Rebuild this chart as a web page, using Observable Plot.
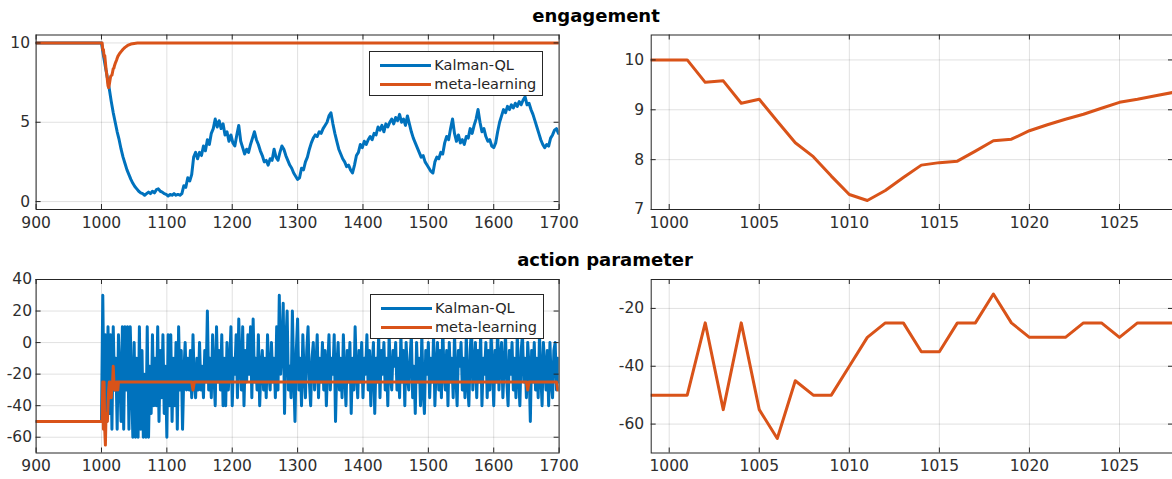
<!DOCTYPE html>
<html><head><meta charset="utf-8">
<script src="https://cdn.jsdelivr.net/npm/d3@7"></script>
<script src="https://cdn.jsdelivr.net/npm/@observablehq/plot@0.6"></script>
<style>
html,body{margin:0;padding:0;background:#fff;overflow:hidden;}
#fig{position:relative;width:1172px;height:479px;overflow:hidden;font-family:"DejaVu Sans",sans-serif;}
.panel{position:absolute;}
.title{position:absolute;font-weight:bold;font-size:18px;color:#000;transform:translate(-50%,-50%);white-space:nowrap;line-height:1;}
.legend{position:absolute;border:1px solid #262626;background:#fff;box-sizing:border-box;}
.legend .sw{position:absolute;height:3px;width:51px;left:10px;}
.legend .lb{position:absolute;left:64px;font-size:14.5px;color:#262626;line-height:1;transform:translateY(-50%);white-space:nowrap;}
</style>
</head><body>
<div id="fig"></div>
<script>
// ---------- data ----------
const seriesNames = ["Kalman-QL", "meta-learning"];
const titles = ["engagement", "action parameter"];

const xTicksFull = [900, 1000, 1100, 1200, 1300, 1400, 1500, 1600, 1700];
const xTicksZoom = [1000, 1005, 1010, 1015, 1020, 1025];
const yTicksEng = [0, 5, 10];
const yTicksEngZoom = [7, 8, 9, 10];
const yTicksAct = [-60, -40, -20, 0, 20, 40];
const yTicksActZoom = [-60, -40, -20];

// Kalman-QL engagement: value at t=900, then every 3 steps from t=1000
const kalmanEngStartT = [900];
const kalmanEngStartV = [10];
const kalmanEngagement = [
  10, 9.2, 8.5, 7.8, 7.1, 6.3, 5.6, 5.0, 4.4, 3.9,
  3.3, 2.8, 2.4, 2.0, 1.7, 1.4, 1.15, 0.95, 0.8, 0.65,
  0.55, 0.5, 0.4, 0.5, 0.6, 0.5, 0.65, 0.55, 0.75, 0.8,
  0.65, 0.6, 0.5, 0.45, 0.35, 0.45, 0.4, 0.5, 0.4, 0.45,
  0.4, 0.5, 1.0, 0.9, 1.5, 1.3, 1.7, 2.8, 3.1, 2.7,
  3.1, 2.9, 3.5, 3.2, 3.9, 3.6, 4.3, 4.6, 5.2, 4.7,
  5.1, 4.6, 4.9, 4.2, 4.4, 3.8, 4.2, 3.7, 3.5, 4.2,
  4.8, 3.8, 3.4, 3.0, 3.3, 3.1, 3.6, 4.0, 4.4, 3.9,
  3.6, 3.2, 2.9, 2.5, 2.6, 2.3, 2.7, 2.6, 3.3, 2.8,
  2.6, 3.1, 3.5, 3.3, 2.9, 2.6, 2.3, 2.1, 1.8, 1.6,
  1.4, 1.5, 2.1, 2.0, 2.5, 2.8, 3.3, 3.7, 4.0, 4.2,
  4.1, 4.4, 4.3, 4.6, 4.8, 5.0, 5.4, 5.6, 4.9, 4.3,
  3.8, 3.3, 3.0, 2.7, 2.5, 2.2, 2.3, 2.0, 1.8, 2.3,
  2.9, 3.1, 3.6, 3.4, 3.8, 3.6, 3.9, 4.1, 3.9, 4.3,
  4.2, 4.7, 4.5, 4.8, 4.4, 4.9, 4.7, 5.0, 5.2, 4.9,
  5.3, 5.1, 5.5, 5.0, 5.2, 4.8, 5.4, 4.9, 4.4, 4.0,
  3.7, 3.4, 3.1, 2.8, 2.9, 2.5, 2.3, 2.1, 1.9, 1.8,
  2.5, 2.8, 2.7, 3.1, 3.0, 3.7, 4.1, 3.9, 4.6, 5.2,
  4.3, 3.8, 4.2, 3.7, 3.9, 3.6, 4.1, 4.0, 4.6, 4.3,
  4.8, 5.2, 5.8, 5.0, 4.4, 4.6, 4.1, 3.8, 3.9, 3.5,
  3.4, 3.7, 4.4, 5.0, 5.4, 5.8, 5.6, 6.0, 5.8, 6.1,
  5.9, 6.2, 6.0, 6.3, 6.1, 6.4, 6.6, 6.1, 6.2, 5.8,
  5.5, 5.1, 4.7, 4.3, 3.9, 3.6, 3.4, 3.6, 3.5, 4.0,
  4.2, 4.5, 4.6, 4.3
];

// meta-learning engagement
const metaEngT = [900, 999, 1000, 1001, 1002, 1003, 1004, 1005, 1006, 1007, 1008, 1009, 1010,
  1011, 1012, 1013, 1014, 1015, 1016, 1017, 1018, 1019, 1020, 1021, 1022, 1023, 1024, 1025,
  1026, 1027, 1028, 1030, 1033, 1036, 1040, 1045, 1050, 1055, 1060, 1700];
const metaEngagement = [10, 10, 10, 10, 9.55, 9.58, 9.13, 9.21, 8.77, 8.34, 8.06, 7.67, 7.30,
  7.18, 7.38, 7.64, 7.89, 7.94, 7.97, 8.17, 8.38, 8.41, 8.58, 8.70, 8.81, 8.91, 9.03, 9.15,
  9.21, 9.28, 9.35, 9.45, 9.6, 9.72, 9.84, 9.93, 9.97, 9.99, 10, 10];

// Kalman-QL action parameter: value at t=900, then every 2 steps from t=1000
const kalmanActStartT = [900];
const kalmanActStartV = [-50];
const kalmanAction = [
  -50, 30, -40, 5, -50, 10, -45, 5, -55, 10, -30, -10, -55, 5, -20, -50, 10, -55, 10, -30, 10, -55, 10, -25, -60,
  0, -60, -10, -60, 10, -55, -5, -60, -20, -60, 10, -60, -15, -45, 5, -40, -10, -40, 10, -50, -5, -35, 5, -45, -15,
  -60, 5, -40, 5, -50, -10, -40, 0, -55, 10, -30, -5, -55, -20, 0, -30, -10, -30, -5, -35, 5, -25, -35, -10, -30,
  0, -30, -15, -35, -5, -25, 20, -30, -10, -35, 5, -20, -40, 10, -25, -5, -30, 5, -40, -10, -40, 0, -30, -15, 10,
  -40, -10, -20, 5, -35, 15, -15, -30, 10, -40, -5, -25, 5, -20, 10, -35, 15, -25, -10, -30, 5, -40, -15, -5, -30,
  -10, -35, 5, -20, -30, 0, -25, -10, -35, 10, -30, 30, -20, -5, 25, -45, 0, 20, -30, -15, -35, 20, -20, -50, -5,
  15, -30, -10, -40, 5, -20, -35, -5, 10, -25, -40, -10, 0, -30, -15, 5, -35, -10, -25, 0, -30, -5, -40, -15, 5,
  -30, -10, -20, 5, -50, -15, 0, -30, -10, -35, 5, -20, -40, -5, -25, 0, -45, -10, -30, 10, -20, -35, -5, -25, 0,
  -35, -10, -20, 5, -30, -5, -40, -15, 0, -45, -10, -25, 5, -35, -5, -20, 0, -30, -10, -40, 5, -20, -30, -5, -15,
  0, -30, -10, -35, 5, -25, -5, -40, 0, -20, -30, -10, 5, -35, -15, -45, 0, -25, -10, -40, 5, -30, -45, -5, -20,
  0, -35, -10, -25, 5, -40, -15, 0, -30, -5, -35, 10, -20, -30, -5, -40, 0, -25, -10, -35, 5, -20, -40, -5, -15,
  0, -30, -10, -35, 5, -25, -40, -5, 10, -30, -15, 0, -35, -5, -25, 5, -40, -10, -20, 0, -35, -5, -30, 5, -15,
  -40, -5, -25, 10, -30, -10, 0, -35, -15, 5, -25, -40, -5, -20, 0, -30, -10, -35, 5, -20, -40, -5, 5, -25, -10,
  -35, 0, -15, -50, -5, -25, 0, -30, -10, -35, 5, -20, -40, 0, -15, -30, -5, -40, 0, -25, -35, -5, 0, -30, -10,
  -25
];

// meta-learning action parameter
const metaActT = [900, 1000, 1001, 1002, 1003, 1004, 1005, 1006, 1007, 1008, 1009, 1010, 1011, 1012,
  1013, 1014, 1015, 1016, 1017, 1018, 1019, 1020, 1021, 1022, 1023, 1024, 1025, 1026, 1027, 1028,
  1029, 1030, 1138, 1140, 1142, 1650, 1652, 1654, 1696, 1698, 1700];
const metaAction = [-50, -50, -50, -25, -55, -25, -55, -65, -45, -50, -50, -40, -30, -25,
  -25, -35, -35, -25, -25, -15, -25, -30, -30, -30, -25, -25, -30, -25, -25, -25,
  -25, -25, -25, -30, -25, -25, -30, -25, -25, -30, -30];

// ---------- build tables ----------
const zip = (ts, vs) => ts.slice(0, Math.min(ts.length, vs.length)).map((t, i) => ({t, v: vs[i]}));
const kalmanEngT = kalmanEngStartT.concat(d3.range(0, kalmanEngagement.length).map(i => 1000 + 3 * i));
const kalmanActT = kalmanActStartT.concat(d3.range(0, kalmanAction.length).map(i => 1000 + 2 * i));
const kEng = zip(kalmanEngT, kalmanEngStartV.concat(kalmanEngagement));
const mEng = zip(metaEngT, metaEngagement);
const kAct = zip(kalmanActT, kalmanActStartV.concat(kalmanAction));
const mAct = zip(metaActT, metaAction);

const BLUE = "#0072BD", ORANGE = "#D95319", AX = "#262626";
const fig = document.getElementById("fig");

function panel(o) {
  const pw = o.width - o.mL - o.mR, ph = o.height - o.mT - o.mB, tk = 5;
  const svg = Plot.plot({
    width: o.width, height: o.height,
    marginLeft: o.mL, marginRight: o.mR, marginTop: o.mT, marginBottom: o.mB,
    x: {domain: o.xDomain, label: null},
    y: {domain: o.yDomain, label: null},
    style: {fontFamily: "DejaVu Sans", fontSize: "15.5px", color: "#2e2e2e", background: "transparent", overflow: "visible"},
    marks: [
      Plot.gridX(o.xTicks, {stroke: "#000", strokeOpacity: 0.12, strokeWidth: 1}),
      Plot.gridY(o.yTicks, {stroke: "#000", strokeOpacity: 0.12, strokeWidth: 1}),
      ...o.lines.map(l => Plot.line(l.data, {x: "t", y: "v", stroke: l.color, strokeWidth: 3, clip: true, strokeLinejoin: "round"})),
      Plot.frame({stroke: AX, strokeWidth: 1}),
      Plot.tickX(o.xTicks, {x: d => d, insetTop: ph - tk, stroke: AX}),
      Plot.tickX(o.xTicks, {x: d => d, insetBottom: ph - tk, stroke: AX}),
      Plot.tickY(o.yTicks, {y: d => d, insetRight: pw - tk, stroke: AX}),
      Plot.tickY(o.yTicks, {y: d => d, insetLeft: pw - tk, stroke: AX}),
      Plot.axisX(o.xTicks, {tickSize: 0, tickPadding: 7, tickFormat: d => String(d), label: null}),
      Plot.axisY(o.yTicks, {tickSize: 0, tickPadding: o.yPad, tickFormat: d => String(d), label: null})
    ]
  });
  svg.classList.add("panel");
  svg.style.left = o.left + "px";
  svg.style.top = o.top + "px";
  fig.appendChild(svg);
}

function legend(left, top) {
  const d = document.createElement("div");
  d.className = "legend";
  d.style.left = left + "px"; d.style.top = top + "px";
  d.style.width = "174px"; d.style.height = "45px";
  [[BLUE, seriesNames[0], 13], [ORANGE, seriesNames[1], 32]].forEach(([c, n, y]) => {
    const s = document.createElement("div"); s.className = "sw"; s.style.background = c; s.style.top = (y - 1.5) + "px";
    const l = document.createElement("div"); l.className = "lb"; l.textContent = n; l.style.top = y + "px";
    d.appendChild(s); d.appendChild(l);
  });
  fig.appendChild(d);
}

function title(text, cx, cy) {
  const t = document.createElement("div");
  t.className = "title"; t.textContent = text;
  t.style.left = cx + "px"; t.style.top = cy + "px";
  fig.appendChild(t);
}

// top-left
panel({left: 0, top: 20, width: 580, height: 220, mL: 35.6, mR: 21.4, mT: 14.5, mB: 31,
  xDomain: [900, 1700], yDomain: [-0.5, 10.5], xTicks: xTicksFull, yTicks: yTicksEng, yPad: 6,
  lines: [{data: kEng, color: BLUE}, {data: mEng, color: ORANGE}]});
// top-right
panel({left: 590, top: 20, width: 600, height: 220, mL: 60.7, mR: 17, mT: 14.5, mB: 31,
  xDomain: [999, 1028], yDomain: [7, 10.5], xTicks: xTicksZoom, yTicks: yTicksEngZoom, yPad: 7,
  lines: [{data: mEng, color: ORANGE}]});
// bottom-left
panel({left: 0, top: 260, width: 580, height: 219, mL: 35.6, mR: 21.4, mT: 19, mB: 26.5,
  xDomain: [900, 1700], yDomain: [-70, 40], xTicks: xTicksFull, yTicks: yTicksAct, yPad: 4,
  lines: [{data: kAct, color: BLUE}, {data: mAct, color: ORANGE}]});
// bottom-right
panel({left: 590, top: 260, width: 600, height: 219, mL: 60.7, mR: 17, mT: 19, mB: 26.5,
  xDomain: [999, 1028], yDomain: [-70, -10], xTicks: xTicksZoom, yTicks: yTicksActZoom, yPad: 7,
  lines: [{data: mAct, color: ORANGE}]});

legend(369.3, 51);
legend(370, 294.3);
title(titles[0], 596, 16);
title(titles[1], 605, 260);
</script>
</body></html>
